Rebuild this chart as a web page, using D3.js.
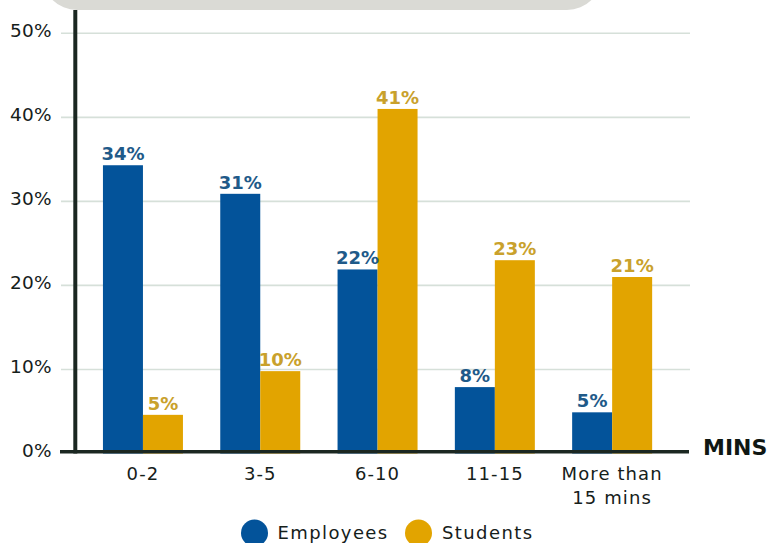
<!DOCTYPE html>
<html>
<head>
<meta charset="utf-8">
<script src="https://cdn.jsdelivr.net/npm/d3@7"></script>
<style>
  html, body { margin: 0; padding: 0; background: #ffffff; }
  svg { display: block; }
</style>
</head>
<body>
<svg id="chart" width="773" height="543"></svg>
<script>
const categories = ["0-2", "3-5", "6-10", "11-15", "More than\n15 mins"];
const employees = [34.3, 30.9, 21.9, 7.9, 4.9];
const students = [4.6, 9.8, 41.0, 23.0, 21.0];
const employeeLabels = ["34%", "31%", "22%", "8%", "5%"];
const studentLabels = ["5%", "10%", "41%", "23%", "21%"];
const yTicks = [0, 10, 20, 30, 40, 50];
const seriesNames = ["Employees", "Students"];
const axisTitle = "MINS";

const colors = { Employees: "#03539a", Students: "#e2a400" };
const labelColors = { Employees: "#1f5a89", Students: "#c9a12c" };

const svg = d3.select("#chart");

// decorative header shape at the top
svg.append("rect")
  .attr("x", 42).attr("y", -60).attr("width", 560).attr("height", 70)
  .attr("rx", 35).attr("ry", 35)
  .attr("fill", "#dadad5");

const x = d3.scaleBand()
  .domain(categories)
  .range([84.3, 670.8])
  .paddingInner(0.318)
  .paddingOuter(0.159);

const xs = d3.scaleBand()
  .domain(seriesNames)
  .range([0, x.bandwidth()]);

const y = d3.scaleLinear().domain([0, 50]).range([453.5, 33.3]);

// gridlines
svg.append("g").selectAll("line")
  .data(yTicks.filter(t => t > 0))
  .join("line")
  .attr("x1", 61).attr("x2", 690)
  .attr("y1", d => y(d)).attr("y2", d => y(d))
  .attr("stroke", "#d6e0d9").attr("stroke-width", 1.6);

// y tick labels
svg.append("g").selectAll("text")
  .data(yTicks)
  .join("text")
  .attr("x", 52)
  .attr("y", d => y(d) - 3)
  .attr("dy", "0.36em")
  .attr("text-anchor", "end")
  .attr("font-family", "DejaVu Sans, sans-serif")
  .attr("font-size", 18.5)
  .attr("letter-spacing", 0.3)
  .attr("fill", "#15201a")
  .text(d => d + "%");

// bars
const rows = categories.map((c, i) => ({
  cat: c,
  vals: [
    { s: "Employees", v: employees[i], label: employeeLabels[i] },
    { s: "Students", v: students[i], label: studentLabels[i] }
  ]
}));

const groups = svg.append("g").selectAll("g")
  .data(rows)
  .join("g")
  .attr("transform", d => `translate(${x(d.cat)},0)`);

groups.selectAll("rect")
  .data(d => d.vals)
  .join("rect")
  .attr("x", d => xs(d.s))
  .attr("width", xs.bandwidth())
  .attr("y", d => y(d.v))
  .attr("height", d => y(0) - y(d.v))
  .attr("fill", d => colors[d.s]);

groups.selectAll("text.val")
  .data(d => d.vals)
  .join("text")
  .attr("class", "val")
  .attr("x", d => xs(d.s) + xs.bandwidth() / 2)
  .attr("y", d => y(d.v) - 5)
  .attr("text-anchor", "middle")
  .attr("font-family", "DejaVu Sans, sans-serif")
  .attr("font-weight", "bold")
  .attr("font-size", 18)
  .attr("fill", d => labelColors[d.s])
  .text(d => d.label);

// y axis line
svg.append("line")
  .attr("x1", 75.3).attr("x2", 75.3)
  .attr("y1", 10).attr("y2", y(0))
  .attr("stroke", "#1b2721").attr("stroke-width", 4);

// baseline
svg.append("line")
  .attr("x1", 60).attr("x2", 689)
  .attr("y1", y(0) - 1.8).attr("y2", y(0) - 1.8)
  .attr("stroke", "#1b2721").attr("stroke-width", 3.6);

// category labels
const catText = svg.append("g").selectAll("text")
  .data(categories)
  .join("text")
  .attr("x", d => x(d) + x.bandwidth() / 2)
  .attr("y", 480)
  .attr("text-anchor", "middle")
  .attr("font-family", "DejaVu Sans, sans-serif")
  .attr("font-size", 18)
  .attr("letter-spacing", 1.1)
  .attr("fill", "#15201a");

catText.each(function(d) {
  const lines = d.split("\n");
  d3.select(this).selectAll("tspan")
    .data(lines)
    .join("tspan")
    .attr("x", x(d) + x.bandwidth() / 2)
    .attr("dy", (l, i) => i === 0 ? 0 : 23.5)
    .text(l => l);
});

// axis title
svg.append("text")
  .attr("x", 703).attr("y", 455)
  .attr("font-family", "DejaVu Sans, sans-serif")
  .attr("font-weight", "bold")
  .attr("font-size", 22)
  .attr("fill", "#0f1713")
  .text(axisTitle);

// legend
const legendItems = [
  { s: "Employees", cx: 254.5, tx: 277.5 },
  { s: "Students", cx: 418.5, tx: 442 }
];
const lg = svg.append("g").selectAll("g")
  .data(legendItems)
  .join("g");
lg.append("circle")
  .attr("cx", d => d.cx).attr("cy", 533)
  .attr("r", 13.5)
  .attr("fill", d => colors[d.s]);
lg.append("text")
  .attr("x", d => d.tx).attr("y", 539)
  .attr("font-family", "DejaVu Sans, sans-serif")
  .attr("font-size", 18)
  .attr("letter-spacing", 1.4)
  .attr("fill", "#15201a")
  .text(d => d.s);
</script>
</body>
</html>
